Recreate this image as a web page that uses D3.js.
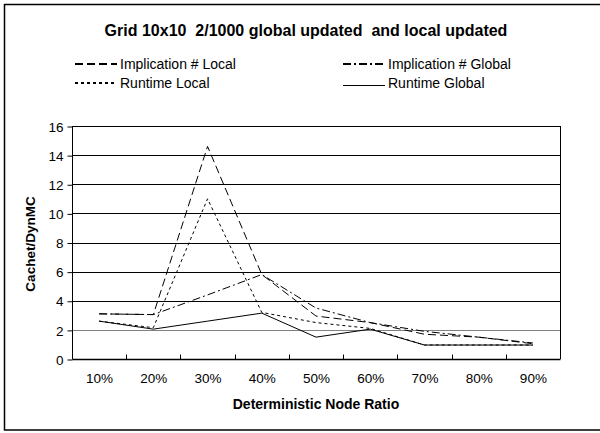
<!DOCTYPE html>
<html><head><meta charset="utf-8">
<script src="https://cdn.jsdelivr.net/npm/d3@7"></script>
<style>body{margin:0;background:#fff;} svg{display:block;} text{font-family:"Liberation Sans",Arial,Helvetica,sans-serif;fill:#000;}</style>
</head><body>
<svg id="c" width="600" height="433"></svg>
<script>
const categories = ["10%","20%","30%","40%","50%","60%","70%","80%","90%"];
const implicationLocal  = [3.1, 3.05, 14.6, 5.8, 2.95, 2.5, 1.7, 1.5, 1.05];
const implicationGlobal = [3.1, 3.05, 4.4, 5.8, 3.5, 2.5, 1.9, 1.5, 1.1];
const runtimeLocal      = [2.6, 2.15, 11.0, 3.2, 2.5, 2.1, 0.96, 0.96, 0.96];
const runtimeGlobal     = [2.6, 2.05, 2.6, 3.15, 1.5, 2.05, 0.96, 0.96, 0.96];
const yTicks = [0,2,4,6,8,10,12,14,16];
const seriesNames = ["Implication # Local","Implication # Global","Runtime Local","Runtime Global"];

const series = [
  {name: seriesNames[0], values: implicationLocal,  dash: "8,4"},
  {name: seriesNames[1], values: implicationGlobal, dash: "8,3,2,3"},
  {name: seriesNames[2], values: runtimeLocal,      dash: "3,3"},
  {name: seriesNames[3], values: runtimeGlobal,     dash: null}
];

const svg = d3.select("#c");
const L = 72, R = 560, T = 126, B = 359;

// outer border
svg.append("rect").attr("x",4.5).attr("y",4.5).attr("width",600).attr("height",425.5)
  .attr("fill","none").attr("stroke","#000").attr("stroke-width",1.5);

svg.append("text").attr("x",306).attr("y",35.5).attr("text-anchor","middle")
  .style("font-weight","bold").style("font-size","16px").attr("xml:space","preserve")
  .text("Grid 10x10  2/1000 global updated  and local updated");

const x = d3.scaleBand().domain(categories).range([L,R]).padding(0);
const y = d3.scaleLinear().domain([0,16]).range([B,T]);

// gridlines
svg.append("g").selectAll("line").data(yTicks.filter(v=>v>0)).join("line")
  .attr("x1",L).attr("x2",R).attr("y1",d=>Math.round(y(d))+0.5).attr("y2",d=>Math.round(y(d))+0.5)
  .attr("stroke",d=>d===2?"#808080":"#000").attr("stroke-width",1);
// right border of plot
svg.append("line").attr("x1",R+0.5).attr("x2",R+0.5).attr("y1",T).attr("y2",B).attr("stroke","#000");

// y axis
const yAxis = svg.append("g").attr("transform",`translate(${L+0.5},0.5)`)
  .call(d3.axisLeft(y).tickValues(yTicks).tickSize(5).tickPadding(4));
yAxis.selectAll("text").style("font-size","13.5px").attr("dy","0.35em");
yAxis.select(".domain").attr("d",`M0,${T}V${B}`);

// x axis
const xAxis = svg.append("g").attr("transform",`translate(0.5,${B+0.5})`)
  .call(d3.axisBottom(x).tickSize(0).tickPadding(14));
xAxis.selectAll("text").style("font-size","13.5px");
xAxis.select(".domain").attr("d",`M${L},0H${R}`).attr("stroke-width",1.5);
// tick marks between categories (inside)
xAxis.append("g").selectAll("line").data(categories.slice(1)).join("line")
  .attr("x1",d=>Math.round(x(d))).attr("x2",d=>Math.round(x(d))).attr("y1",0).attr("y2",-5).attr("stroke","#000");

svg.append("text").attr("x",316).attr("y",409).attr("text-anchor","middle")
  .style("font-weight","bold").style("font-size","14px").text("Deterministic Node Ratio");
svg.append("text").attr("transform","translate(35,244) rotate(-90)").attr("text-anchor","middle")
  .style("font-weight","bold").style("font-size","13.5px").text("Cachet/DynMC");

// lines
const line = d3.line().x((d,i)=>x(categories[i])+x.bandwidth()/2).y(d=>y(d));
svg.append("g").selectAll("path").data(series).join("path")
  .attr("d",d=>line(d.values)).attr("fill","none").attr("stroke","#000")
  .attr("stroke-width",1).attr("stroke-dasharray",d=>d.dash);

// legend
const legPos = [[75,64],[343,64],[75,83],[343,83]];
const lineOff = [0,0,0,2.5];
const leg = svg.append("g").selectAll("g").data(series).join("g")
  .attr("transform",(d,i)=>`translate(${legPos[i][0]},${legPos[i][1]})`);
leg.append("line").attr("x1",0).attr("x2",42).attr("y1",(d,i)=>lineOff[i]).attr("y2",(d,i)=>lineOff[i])
  .attr("stroke","#000").attr("stroke-width",(d,i)=>i===3?1:2).attr("stroke-dasharray",d=>d.dash);
leg.append("text").attr("x",45).attr("y",0).attr("dy","0.35em").style("font-size","14px").text(d=>d.name);
</script>
</body></html>
